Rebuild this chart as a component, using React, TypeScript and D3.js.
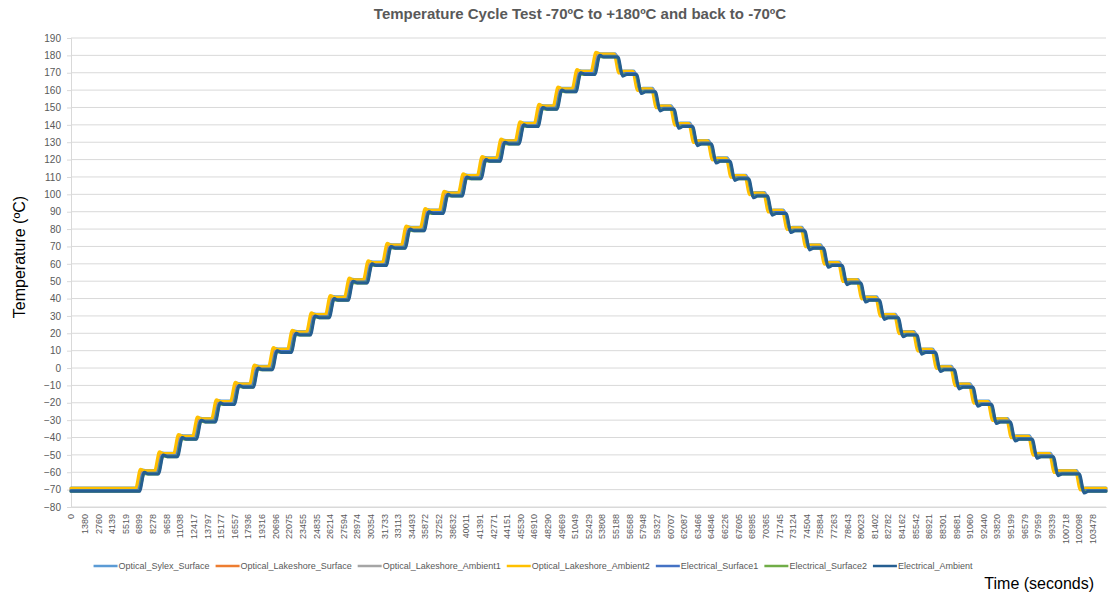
import React, { useEffect, useRef } from 'react';
import * as d3 from 'd3';

const WIDTH = 1116;
const HEIGHT = 603;
const MARGIN = { top: 38, right: 10, bottom: 96, left: 71 };

const TITLE = 'Temperature Cycle Test -70ºC to +180ºC and back to -70ºC';
const Y_TITLE = 'Temperature (ºC)';
const X_TITLE = 'Time (seconds)';

// x axis category labels (seconds)
const X_LABELS = [
  0, 1380, 2760, 4139, 5519, 6899, 8278, 9658, 11038, 12417, 13797, 15177, 16557, 17936,
  19316, 20696, 22075, 23455, 24835, 26214, 27594, 28974, 30354, 31733, 33113, 34493,
  35872, 37252, 38632, 40011, 41391, 42771, 44151, 45530, 46910, 48290, 49669, 51049,
  52429, 53808, 55188, 56568, 57948, 59327, 60707, 62087, 63466, 64846, 66226, 67605,
  68985, 70365, 71745, 73124, 74504, 75884, 77263, 78643, 80023, 81402, 82782, 84162,
  85542, 86921, 88301, 89681, 91060, 92440, 93820, 95199, 96579, 97959, 99339, 100718,
  102098, 103478,
];
const END_TIME = 104860;

const Y_TICKS = d3.range(-80, 191, 10);

// chamber set points, one per plateau
const SETPOINTS = [
  -70, -60, -50, -40, -30, -20, -10, 0, 10, 20, 30, 40, 50, 60, 70, 80, 90, 100, 110, 120,
  130, 140, 150, 160, 170, 180, 170, 160, 150, 140, 130, 120, 110, 100, 90, 80, 70, 60, 50,
  40, 30, 20, 10, 0, -10, -20, -30, -40, -50, -60, -70,
];
// time (s) at which each set point change starts
const STEP_TIMES = [
  6690, 8610, 10540, 12460, 14380, 16300, 18230, 20150, 22070, 24000, 25920, 27840, 29760,
  31690, 33610, 35530, 37450, 39380, 41300, 43220, 45140, 47070, 48990, 50910, 52830,
  55160, 57050, 58950, 60840, 62730, 64630, 66520, 68410, 70310, 72200, 74090, 75990,
  77880, 79770, 81660, 83560, 85450, 87340, 89240, 91130, 93020, 94920, 97140, 99270,
  101910,
];

const SERIES_NAMES = [
  'Optical_Sylex_Surface',
  'Optical_Lakeshore_Surface',
  'Optical_Lakeshore_Ambient1',
  'Optical_Lakeshore_Ambient2',
  'Electrical_Surface1',
  'Electrical_Surface2',
  'Electrical_Ambient',
];
const SERIES_COLORS = ['#5B9BD5', '#ED7D31', '#A5A5A5', '#FFC000', '#4472C4', '#70AD47', '#255E91'];
// per-sensor reading offset (ºC), response lag (s) and overshoot (ºC)
const SERIES_BIAS = [1, 0, 0, 0.8, -0.5, -1, -1];
const SERIES_LAG = [0, 50, 100, -150, 150, 200, 250];
const SERIES_OVERSHOOT = [0.3, 0.5, 0, 1, 0.3, 0.3, 1];

const RISE = 500;
const SETTLE = 900;

const buildSeries = (s: number) => {
  const bias = SERIES_BIAS[s];
  const lag = SERIES_LAG[s];
  const over = SERIES_OVERSHOOT[s];
  const pts: [number, number][] = [[0, SETPOINTS[0] + bias]];
  STEP_TIMES.forEach((t, i) => {
    const from = SETPOINTS[i] + bias;
    const to = SETPOINTS[i + 1] + bias;
    const dir = Math.sign(to - from);
    pts.push([t + lag, from]);
    pts.push([t + lag + RISE, to + dir * over]);
    pts.push([t + lag + SETTLE, to]);
  });
  pts.push([END_TIME, SETPOINTS[SETPOINTS.length - 1] + bias]);
  return pts;
};

const FONT = 'Liberation Sans, Arial, sans-serif';

export default function App() {
  const ref = useRef<SVGSVGElement>(null);

  useEffect(() => {
    const svg = d3.select(ref.current);
    svg.selectAll('*').remove();

    const x = d3.scaleLinear().domain([0, END_TIME]).range([MARGIN.left, WIDTH - MARGIN.right]);
    const y = d3.scaleLinear().domain([-80, 190]).range([HEIGHT - MARGIN.bottom, MARGIN.top]);

    // title
    svg.append('text')
      .attr('x', 580)
      .attr('y', 19)
      .attr('text-anchor', 'middle')
      .attr('font-family', FONT)
      .attr('font-weight', 'bold')
      .attr('font-size', 15)
      .attr('fill', '#595959')
      .text(TITLE);

    // gridlines
    svg.append('g')
      .selectAll('line')
      .data(Y_TICKS)
      .join('line')
      .attr('x1', MARGIN.left)
      .attr('x2', WIDTH - MARGIN.right)
      .attr('y1', d => y(d))
      .attr('y2', d => y(d))
      .attr('stroke', '#D9D9D9')
      .attr('stroke-width', 1);

    // y axis
    const yAxis = svg.append('g')
      .attr('transform', `translate(${MARGIN.left},0)`)
      .call(d3.axisLeft(y).tickValues(Y_TICKS).tickSize(4).tickPadding(6));
    yAxis.select('.domain').attr('stroke', '#D9D9D9');
    yAxis.selectAll('.tick line').attr('stroke', '#D9D9D9');
    yAxis.selectAll('.tick text')
      .attr('fill', '#595959')
      .attr('font-size', 10)
      .attr('font-family', FONT);

    // x axis
    const xAxis = svg.append('g')
      .attr('transform', `translate(0,${HEIGHT - MARGIN.bottom})`)
      .call(d3.axisBottom(x).tickValues(X_LABELS).tickSize(0).tickFormat(d => String(d)));
    xAxis.select('.domain').attr('stroke', '#D9D9D9');
    xAxis.selectAll('.tick text')
      .attr('fill', '#595959')
      .attr('font-size', 9)
      .attr('font-family', FONT)
      .attr('text-anchor', 'end')
      .attr('transform', 'rotate(-90)')
      .attr('x', -7)
      .attr('y', 0)
      .attr('dy', '0.32em');

    // series
    const line = d3.line<[number, number]>()
      .x(d => x(d[0]))
      .y(d => y(d[1]))
      .curve(d3.curveMonotoneX);

    svg.append('g')
      .selectAll('path')
      .data(SERIES_NAMES.map((_, i) => buildSeries(i)))
      .join('path')
      .attr('d', d => line(d))
      .attr('fill', 'none')
      .attr('stroke', (_, i) => SERIES_COLORS[i])
      .attr('stroke-width', 3)
      .attr('stroke-linejoin', 'round')
      .attr('stroke-linecap', 'round');

    // y title
    svg.append('text')
      .attr('transform', 'translate(25,257) rotate(-90)')
      .attr('text-anchor', 'middle')
      .attr('font-family', FONT)
      .attr('font-size', 16)
      .attr('fill', '#000')
      .text(Y_TITLE);

    // x title
    svg.append('text')
      .attr('x', 1094)
      .attr('y', 589)
      .attr('text-anchor', 'end')
      .attr('font-family', FONT)
      .attr('font-size', 16)
      .attr('fill', '#000')
      .text(X_TITLE);

    // legend
    const legend = svg.append('g');
    const items = legend.selectAll('g')
      .data(SERIES_NAMES)
      .join('g');
    items.append('line')
      .attr('x1', 0)
      .attr('x2', 24)
      .attr('y1', 0)
      .attr('y2', 0)
      .attr('stroke', (_, i) => SERIES_COLORS[i])
      .attr('stroke-width', 2.5);
    items.append('text')
      .attr('x', 25)
      .attr('y', 0)
      .attr('dy', '0.35em')
      .attr('font-size', 9)
      .attr('font-family', FONT)
      .attr('fill', '#595959')
      .text(d => d);
    let offset = 0;
    items.each(function () {
      const g = d3.select(this);
      const w = (g.select('text').node() as SVGTextElement).getComputedTextLength();
      g.attr('transform', `translate(${offset},0)`);
      offset += 25 + w + 6;
    });
    legend.attr('transform', `translate(${533 - (offset - 6) / 2},566)`);
  }, []);

  return (
    <svg
      ref={ref}
      width={WIDTH}
      height={HEIGHT}
      style={{ position: 'absolute', left: 0, top: 0, display: 'block', background: '#fff' }}
    />
  );
}
